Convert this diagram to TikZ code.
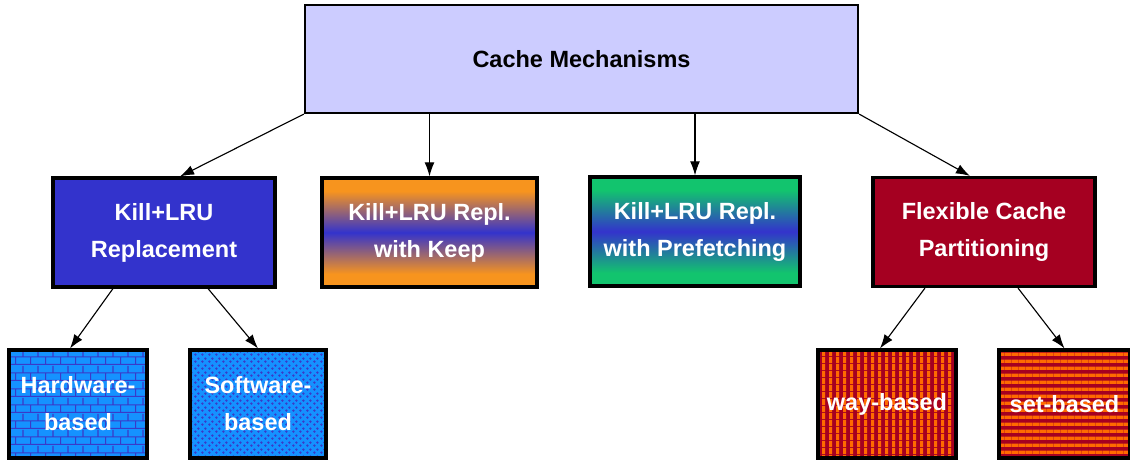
\documentclass[tikz,border=0pt]{standalone}
\usepackage{fontspec}
\setmainfont{Liberation Sans}
\usepackage{tikz}
\usetikzlibrary{arrows.meta,patterns.meta}

\definecolor{lavender}{HTML}{CCCCFF}
\definecolor{killblue}{HTML}{3333CC}
\definecolor{flexred}{HTML}{A50021}
\definecolor{keeporange}{HTML}{F7941E}
\definecolor{prefgreen}{HTML}{12C46E}
\definecolor{hwblue}{HTML}{1592FF}
\definecolor{hwline}{HTML}{3A3AC8}
\definecolor{stripeorange}{HTML}{FF6A00}

\pgfdeclareverticalshading{keepshade}{100bp}{color(0bp)=(keeporange); color(31bp)=(keeporange);
  color(50bp)=(killblue); color(69bp)=(keeporange); color(100bp)=(keeporange)}
\pgfdeclareverticalshading{prefshade}{100bp}{color(0bp)=(prefgreen); color(31bp)=(prefgreen);
  color(50bp)=(killblue); color(69bp)=(prefgreen); color(100bp)=(prefgreen)}

\tikzdeclarepattern{name=brickwall, type=uncolored,
  bounding box={(0,0) and (11pt,11.4pt)}, tile size={(11pt,11.4pt)},
  code={
    \draw[line width=0.8pt] (0,0.4pt) -- (11pt,0.4pt) (0,6.1pt) -- (11pt,6.1pt)
      (0.4pt,0.4pt) -- (0.4pt,6.1pt) (5.9pt,6.1pt) -- (5.9pt,11.4pt);
  }}
\tikzdeclarepattern{name=dotgrid, type=uncolored,
  bounding box={(0,0) and (4.6pt,4.6pt)}, tile size={(4.6pt,4.6pt)},
  code={
    \fill (1.1pt,1.1pt) circle (1pt);
    \fill (3.4pt,3.4pt) circle (1pt);
  }}
\tikzdeclarepattern{name=vstripes, type=uncolored,
  bounding box={(0,0) and (5pt,5pt)}, tile size={(5pt,5pt)},
  code={\fill (0,0) rectangle (2.5pt,5pt);}}
\tikzdeclarepattern{name=hstripes, type=uncolored,
  bounding box={(0,0) and (4.8pt,4.8pt)}, tile size={(4.8pt,4.8pt)},
  code={\fill (0,0) rectangle (4.8pt,2.4pt);}}

\tikzstyle{label}=[font=\fontsize{16.7}{26.3}\selectfont\bfseries, align=center, text=white]
\tikzstyle{top}=[rectangle, draw, line width=1.5pt, fill=lavender, minimum width=13.825cm, minimum height=2.7cm, font=\fontsize{16.7}{26.3}\selectfont\bfseries]
\tikzstyle{mech}=[rectangle, draw, line width=2.2pt, minimum height=2.725cm, label]
\tikzstyle{sub}=[rectangle, draw, line width=2.2pt, minimum height=2.7cm, label]
\tikzstyle{edge}=[line width=0.8pt, -{Latex[length=10pt,width=7pt]}]

\begin{document}
\begin{tikzpicture}[x=0.025cm,y=-0.025cm]
\useasboundingbox (0,0) rectangle (1130,460);

%The root
\draw (581.5,59) node[top] (cache) {Cache Mechanisms};

%The mechanisms
\draw (164,232.5) node[mech, fill=killblue, minimum width=5.55cm] (kill) {Kill+LRU\\Replacement};
\draw (429.5,232.5) node[mech, shading=keepshade, minimum width=5.375cm] (keep) {Kill+LRU Repl.\\with Keep};
\draw (695,231.5) node[mech, shading=prefshade, minimum width=5.25cm] (pref) {Kill+LRU Repl.\\with Prefetching};
\draw (984,232) node[mech, fill=flexred, minimum width=5.55cm] (flex) {Flexible Cache\\Partitioning};

%The variants
\draw (78,404) node[sub, preaction={fill=hwblue}, pattern=brickwall, pattern color=hwline, minimum width=3.45cm] (hw) {Hardware-\\based};
\draw (258,404) node[sub, preaction={fill=hwblue}, pattern=dotgrid, pattern color=hwline, minimum width=3.4cm] (sw) {Software-\\based};
\draw (887,404) node[sub, preaction={fill=flexred}, pattern=vstripes, pattern color=stripeorange, minimum width=3.45cm] (way) {way-based};
\draw (1064.5,404) node[sub, preaction={fill=flexred}, pattern=hstripes, pattern color=stripeorange, minimum width=3.275cm] (set) {set-based};

\draw[edge] (cache.south west) -- ([xshift=0.4cm]kill.north);
\draw[edge] (cache.south -| keep.north) -- (keep.north);
\draw[edge] (cache.south -| pref.north) -- (pref.north);
\draw[edge] (cache.south east) -- ([xshift=-0.35cm]flex.north);

\draw[edge] ([xshift=-1.275cm]kill.south) -- ([xshift=-0.2cm]hw.north);
\draw[edge] ([xshift=1.1cm]kill.south) -- (sw.north);
\draw[edge] ([xshift=-1.475cm]flex.south) -- ([xshift=-0.175cm]way.north);
\draw[edge] ([xshift=0.85cm]flex.south) -- (set.north);
\end{tikzpicture}
\end{document}
